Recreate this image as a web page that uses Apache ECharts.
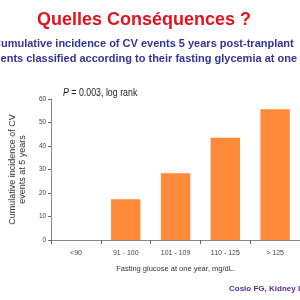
<!DOCTYPE html>
<html>
<head>
<meta charset="utf-8">
<script src="https://cdn.jsdelivr.net/npm/echarts@6/dist/echarts.min.js"></script>
<style>
  html, body { margin: 0; padding: 0; background: #fff; }
  #chart { width: 300px; height: 300px; }
</style>
</head>
<body>
<div id="chart"></div>
<script>
const categories = ["<90", "91 - 100", "101 - 109", "110 - 125", "> 125"];
const incidence = [0, 17.3, 28.4, 43.5, 55.6];
const yTicks = [0, 10, 20, 30, 40, 50, 60];

const chart = echarts.init(document.getElementById("chart"));
const font = "Liberation Sans, Arial, sans-serif";

const option = {
  animation: false,
  backgroundColor: "#fff",
  grid: { left: 43, top: 99, width: 270, height: 141 },
  xAxis: {
    type: "category",
    data: categories,
    axisLine: { lineStyle: { color: "#888", width: 1 } },
    axisTick: { show: true, length: 4, lineStyle: { color: "#666" } },
    axisLabel: { color: "#444", fontSize: 7, fontFamily: font, margin: 10 },
    name: "Fasting glucose at one year, mg/dL.",
    nameLocation: "middle",
    nameGap: 25,
    nameTextStyle: { color: "#333", fontSize: 7.5, fontFamily: font, align: "center" }
  },
  yAxis: {
    type: "value",
    min: yTicks[0],
    max: yTicks[yTicks.length - 1],
    interval: 10,
    splitLine: { show: false },
    axisLine: { show: true, lineStyle: { color: "#888" } },
    axisTick: { show: true, length: 3, lineStyle: { color: "#666" } },
    axisLabel: { color: "#444", fontSize: 6.5, fontFamily: font, margin: 5 },
    name: "Cumulative incidence of CV\nevents at 5 years",
    nameLocation: "middle",
    nameGap: 16,
    nameTextStyle: { color: "#333", fontSize: 9, fontFamily: font, lineHeight: 10 }
  },
  series: [{
    type: "bar",
    data: incidence,
    barWidth: "59%",
    itemStyle: { color: "#FF8A3A" }
  }],
  graphic: [
    {
      type: "text", left: 37, top: 11,
      style: { text: "Quelles Conséquences ?", fill: "#E3121B", font: "bold 18px " + font }
    },
    {
      type: "text", left: -7, top: 38,
      style: { text: "Cumulative incidence of CV events 5 years post-tranplant", fill: "#333399", font: "bold 11px " + font }
    },
    {
      type: "text", left: -19, top: 53,
      style: { text: "patients classified according to their fasting glycemia at one year", fill: "#333399", font: "bold 11px " + font }
    },
    {
      type: "text", x: 63, y: 88, scaleX: 0.84,
      style: {
        rich: {
          i: { fontStyle: "italic", fontSize: 10.5, fontFamily: font, fill: "#222" },
          n: { fontSize: 10.5, fontFamily: font, fill: "#222" }
        },
        text: "{i|P}{n| = 0.003, log rank}"
      }
    },
    {
      type: "text", left: 229, top: 285,
      style: { text: "Cosio FG, Kidney Int 2005", fill: "#5B2D9A", font: "bold 8px " + font }
    }
  ]
};

chart.setOption(option);
</script>
</body>
</html>
